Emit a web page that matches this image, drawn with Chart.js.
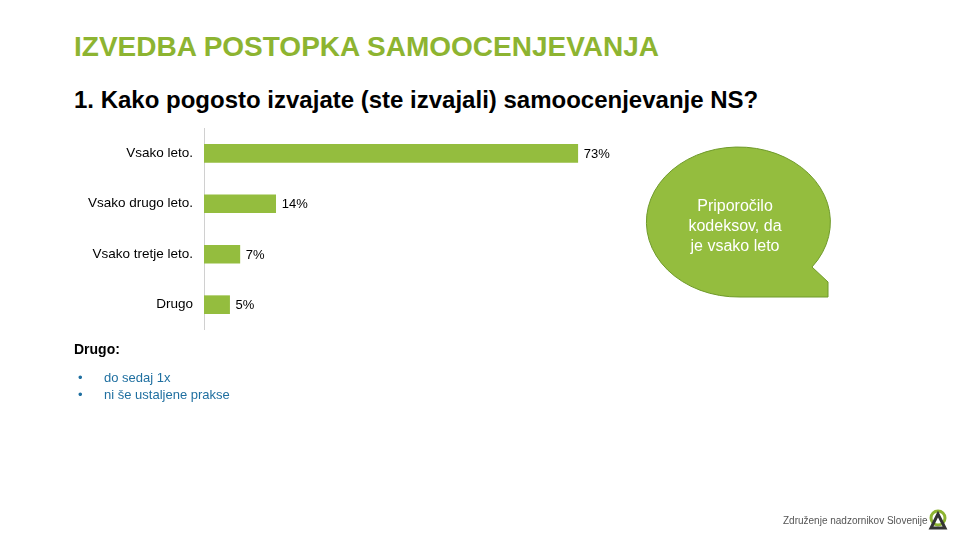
<!DOCTYPE html>
<html><head><meta charset="utf-8">
<script src="https://cdn.jsdelivr.net/npm/chart.js@4"></script>
<style>
body{margin:0;width:960px;height:540px;background:#fff;font-family:"Liberation Sans",Arial,sans-serif;position:relative;overflow:hidden}
.t1{position:absolute;left:74px;top:31px;font-size:28px;font-weight:bold;color:#8db431}
.t2{position:absolute;left:74px;top:86px;font-size:24px;font-weight:bold;color:#000}
#c{position:absolute;left:0;top:109px}
.note{position:absolute;left:74px;top:341px;font-size:14px;font-weight:bold}
ul{position:absolute;left:58px;top:369px;margin:0;padding-left:20px;color:#1f6fa0;font-size:13px;line-height:17px;list-style:none}
ul li:before{content:"•";position:absolute;left:20px;color:#1f6fa0}
ul li{padding-left:26px}
.foot{position:absolute;left:783px;top:515px;font-size:10px;color:#555}
</style></head><body>
<div class="t1">IZVEDBA POSTOPKA SAMOOCENJEVANJA</div>
<div class="t2">1. Kako pogosto izvajate (ste izvajali) samoocenjevanje NS?</div>
<canvas id="c" width="716" height="240" style="width:716px;height:240px"></canvas>
<svg style="position:absolute;left:0;top:0" width="960" height="540">
<path d="M 740 297 A 92 75 0 1 1 812 267 L 828 282 L 828 297 Z" fill="#94bd3e" stroke="#6f9a2a" stroke-width="1"/>
<text x="735" y="211" fill="#fff" font-size="16" text-anchor="middle" font-family="Liberation Sans">Priporočilo</text>
<text x="735" y="231" fill="#fff" font-size="16" text-anchor="middle" font-family="Liberation Sans">kodeksov, da</text>
<text x="735" y="251" fill="#fff" font-size="16" text-anchor="middle" font-family="Liberation Sans">je vsako leto</text>
<circle cx="938" cy="518" r="7" fill="none" stroke="#8db431" stroke-width="3"/>
<path d="M938 514 L931 528 L945 528 Z" fill="none" stroke="#333" stroke-width="3"/>
</svg>
<div class="note">Drugo:</div>
<ul><li>do sedaj 1x</li><li>ni še ustaljene prakse</li></ul>
<div class="foot">Združenje nadzornikov Slovenije</div>
<script>
const categories=["Vsako leto.","Vsako drugo leto.","Vsako tretje leto.","Drugo"];
const values=[73,14,7,5];
const labelPlugin={id:'lbl',afterDatasetsDraw(ch){const ctx=ch.ctx;const m=ch.getDatasetMeta(0);ctx.font='13px "Liberation Sans"';ctx.fillStyle='#000';ctx.textBaseline='middle';m.data.forEach((b,i)=>ctx.fillText(values[i]+'%',b.x+6,b.y+1));}};
new Chart(document.getElementById('c'),{type:'bar',
data:{labels:categories,datasets:[{data:values,backgroundColor:'#94bd3e',barThickness:18}]},
options:{indexAxis:'y',responsive:false,animation:false,devicePixelRatio:1,
layout:{padding:0},
plugins:{legend:{display:false},tooltip:{enabled:false}},
scales:{x:{display:false,min:0,max:100},
y:{afterFit(s){s.width=204},grid:{display:false,drawTicks:false},border:{color:'#d0d0d0'},
ticks:{color:'#000',padding:11,font:{size:13.5,family:'"Liberation Sans"'}}}}},
plugins:[labelPlugin]});
</script>
</body></html>
